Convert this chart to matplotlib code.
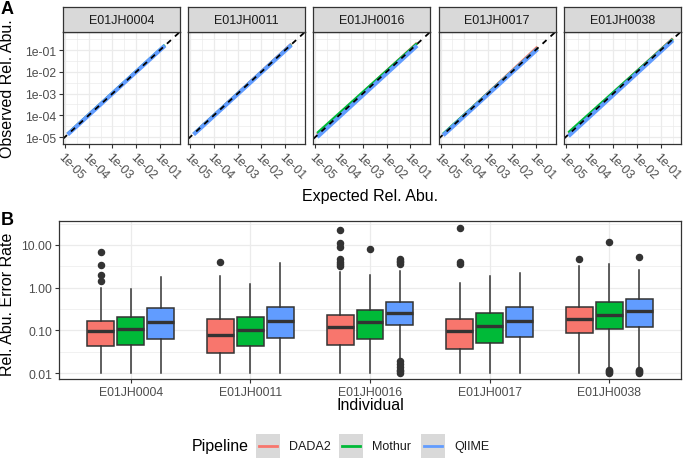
import matplotlib
matplotlib.use("Agg")
import matplotlib.pyplot as plt
from matplotlib.patches import Rectangle
from matplotlib.lines import Line2D
from matplotlib.ticker import FixedLocator, NullFormatter

plt.rcParams['font.family'] = ['Liberation Sans', 'DejaVu Sans']

# ---------------- data ----------------
individuals = ["E01JH0004", "E01JH0011", "E01JH0016", "E01JH0017", "E01JH0038"]
pipelines = ["DADA2", "Mothur", "QIIME"]
colors = ["#F8766D", "#00BA38", "#619CFF"]

# Panel A: expected vs observed relative abundance (line start / end per individual)
expected_A = {
    "E01JH0004": [1.3e-5, 1.6e-1],
    "E01JH0011": [1.4e-5, 1.8e-1],
    "E01JH0016": [1.2e-5, 1.9e-1],
    "E01JH0017": [1.3e-5, 1.2e-1],
    "E01JH0038": [1.3e-5, 3.2e-1],
}
dada2_obs = {
    "E01JH0004": [1.4e-5, 1.6e-1],
    "E01JH0011": [1.4e-5, 1.9e-1],
    "E01JH0016": [1.3e-5, 2.1e-1],
    "E01JH0017": [1.3e-5, 1.4e-1],
    "E01JH0038": [1.4e-5, 3.4e-1],
}
mothur_obs = {
    "E01JH0004": [1.4e-5, 1.7e-1],
    "E01JH0011": [1.4e-5, 1.8e-1],
    "E01JH0016": [1.5e-5, 2.0e-1],
    "E01JH0017": [1.4e-5, 1.2e-1],
    "E01JH0038": [1.6e-5, 3.2e-1],
}
qiime_obs = {
    "E01JH0004": [1.3e-5, 1.6e-1],
    "E01JH0011": [1.3e-5, 1.7e-1],
    "E01JH0016": [1.0e-5, 1.6e-1],
    "E01JH0017": [1.2e-5, 1.1e-1],
    "E01JH0038": [1.1e-5, 2.8e-1],
}
obs_A = [dada2_obs, mothur_obs, qiime_obs]
a_ticks = [1e-5, 1e-4, 1e-3, 1e-2, 1e-1]
a_ticklabels = ["1e-05", "1e-04", "1e-03", "1e-02", "1e-01"]

# Panel B: box statistics of relative abundance error rate (per individual)
dada2_q1 = [0.044, 0.029, 0.045, 0.036, 0.085]
dada2_med = [0.095, 0.079, 0.117, 0.095, 0.18]
dada2_q3 = [0.162, 0.184, 0.23, 0.186, 0.36]
dada2_lo = [0.01, 0.01, 0.01, 0.01, 0.01]
dada2_hi = [0.98, 1.9, 2.37, 1.26, 3.2]
dada2_out = [[6.8, 3.4, 2.0, 1.4], [3.9], [22, 11, 8.7, 4.7, 3.9, 3.5, 3.2], [25, 3.9, 3.5], [4.6]]

mothur_q1 = [0.046, 0.042, 0.064, 0.051, 0.109]
mothur_med = [0.105, 0.10, 0.155, 0.124, 0.23]
mothur_q3 = [0.205, 0.205, 0.30, 0.25, 0.46]
mothur_lo = [0.01, 0.01, 0.01, 0.01, 0.013]
mothur_hi = [0.95, 1.2, 2.0, 1.86, 3.5]
mothur_out = [[], [], [7.9], [], [12, 0.012, 0.011, 0.0105, 0.01]]

qiime_q1 = [0.064, 0.066, 0.13, 0.071, 0.121]
qiime_med = [0.16, 0.168, 0.26, 0.168, 0.28]
qiime_q3 = [0.33, 0.35, 0.47, 0.345, 0.54]
qiime_lo = [0.01, 0.01, 0.02, 0.01, 0.014]
qiime_hi = [1.77, 3.8, 2.5, 2.16, 2.6]
qiime_out = [[], [], [4.6, 4.2, 3.9, 3.6, 0.019, 0.016, 0.014, 0.012, 0.011, 0.01],
             [], [5.1, 0.012, 0.011, 0.0105, 0.01]]

b_ticks = [0.01, 0.1, 1, 10]
b_ticklabels = ["0.01", "0.10", "1.00", "10.00"]

# ---------------- layout helpers ----------------
W, H = 685, 460
fig = plt.figure(figsize=(W / 100, H / 100), dpi=100)

def fr(x0, y0, x1, y1):
    return [x0 / W, 1 - y1 / H, (x1 - x0) / W, (y1 - y0) / H]

GRID = "#EBEBEB"
EDGE = "#333333"
TICKC = "#4D4D4D"
TICK_FS = 8.8
TITLE_FS = 11.5

# overlay for free text / legend
ov = fig.add_axes([0, 0, 1, 1], zorder=0)
ov.set_xlim(0, W)
ov.set_ylim(H, 0)
ov.axis("off")
ov.patch.set_alpha(0)

# ---------------- Panel A ----------------
pw = 117
for i, ind in enumerate(individuals):
    x0 = 63 + i * 125.2
    ax = fig.add_axes(fr(x0, 33, x0 + pw, 145), zorder=1)
    ax.set_xscale("log")
    ax.set_yscale("log")
    ax.set_xlim(10 ** -5.08, 10 ** -0.16)
    ax.set_ylim(10 ** -5.32, 10 ** -0.17)
    ax.xaxis.set_major_locator(FixedLocator(a_ticks))
    ax.yaxis.set_major_locator(FixedLocator(a_ticks))
    minors = [10 ** (k + 0.5) for k in range(-6, 0)]
    ax.xaxis.set_minor_locator(FixedLocator(minors))
    ax.yaxis.set_minor_locator(FixedLocator(minors))
    ax.xaxis.set_minor_formatter(NullFormatter())
    ax.yaxis.set_minor_formatter(NullFormatter())
    ax.grid(which="major", color=GRID, lw=0.9)
    ax.grid(which="minor", color=GRID, lw=0.5)
    ax.set_axisbelow(True)
    ax.tick_params(which="minor", length=0)
    ax.tick_params(which="major", length=3, width=0.8, color=EDGE,
                   labelcolor=TICKC, labelsize=TICK_FS, pad=2)
    ax.set_xticklabels(a_ticklabels, rotation=-45, ha="left", va="top",
                       rotation_mode="anchor")
    if i == 0:
        ax.set_yticklabels(a_ticklabels)
    else:
        ax.tick_params(axis="y", length=0, labelleft=False)
    for s in ax.spines.values():
        s.set_color(EDGE)
        s.set_linewidth(0.9)
    lws = [2.0, 2.0, 3.0]
    for p, obs in enumerate(obs_A):
        ax.plot(expected_A[ind], obs[ind], color=colors[p], lw=lws[p],
                solid_capstyle="butt")
    ax.axline((1e-3, 1e-3), (1e-2, 1e-2), color="black", lw=1.3,
              linestyle=(0, (3, 3)))
    # strip
    sx = fig.add_axes(fr(x0, 8, x0 + pw, 33), zorder=1)
    sx.set_facecolor("#D9D9D9")
    sx.set_xticks([])
    sx.set_yticks([])
    for s in sx.spines.values():
        s.set_color(EDGE)
        s.set_linewidth(0.9)
    sx.text(0.5, 0.48, ind, ha="center", va="center", fontsize=9.0,
            color="#1A1A1A", transform=sx.transAxes)

ov.text(1, 14, "A", fontsize=13, fontweight="bold", ha="left", va="baseline")
ov.text(8, 89, "Observed Rel. Abu.", rotation=90, fontsize=TITLE_FS,
        ha="center", va="center")
ov.text(370, 197, "Expected Rel. Abu.", fontsize=TITLE_FS, ha="center", va="center")

# ---------------- Panel B ----------------
axb = fig.add_axes(fr(59, 222, 681, 380), zorder=1)
axb.set_yscale("log")
axb.set_ylim(10 ** -2.14, 10 ** 1.56)
axb.set_xlim(0.4, 5.6)

q1s = [dada2_q1, mothur_q1, qiime_q1]
meds = [dada2_med, mothur_med, qiime_med]
q3s = [dada2_q3, mothur_q3, qiime_q3]
los = [dada2_lo, mothur_lo, qiime_lo]
his = [dada2_hi, mothur_hi, qiime_hi]
outs = [dada2_out, mothur_out, qiime_out]

for p in range(3):
    stats = []
    positions = []
    for i in range(len(individuals)):
        stats.append(dict(med=meds[p][i], q1=q1s[p][i], q3=q3s[p][i],
                          whislo=los[p][i], whishi=his[p][i],
                          fliers=outs[p][i]))
        positions.append(i + 1 + (p - 1) * 0.25)
    axb.bxp(stats, positions=positions, widths=0.225, patch_artist=True,
            showcaps=False, manage_ticks=False,
            boxprops=dict(facecolor=colors[p], edgecolor=EDGE, lw=1.1),
            medianprops=dict(color=EDGE, lw=2.4, solid_capstyle="butt"),
            whiskerprops=dict(color=EDGE, lw=1.1),
            flierprops=dict(marker="o", markerfacecolor=EDGE,
                            markeredgecolor=EDGE, markersize=4.4))

axb.yaxis.set_major_locator(FixedLocator(b_ticks))
axb.yaxis.set_minor_locator(FixedLocator([10 ** (k + 0.5) for k in range(-3, 2)]))
axb.yaxis.set_minor_formatter(NullFormatter())
axb.set_yticklabels(b_ticklabels)
axb.set_xticks(range(1, len(individuals) + 1))
axb.set_xticklabels(individuals)
axb.grid(which="major", color=GRID, lw=0.9)
axb.grid(which="minor", axis="y", color=GRID, lw=0.5)
axb.set_axisbelow(True)
axb.tick_params(which="minor", length=0)
axb.tick_params(which="major", length=3, width=0.8, color=EDGE,
                labelcolor=TICKC, labelsize=TICK_FS, pad=2)
for s in axb.spines.values():
    s.set_color(EDGE)
    s.set_linewidth(0.9)

ov.text(1, 225, "B", fontsize=13, fontweight="bold", ha="left", va="baseline")
ov.text(8, 304, "Rel. Abu. Error Rate", rotation=90, fontsize=TITLE_FS,
        ha="center", va="center")
ov.text(370, 406, "Individual", fontsize=TITLE_FS, ha="center", va="center")

# ---------------- legend ----------------
ov.text(192, 447, "Pipeline", fontsize=TITLE_FS, ha="left", va="center")
key_x = [256, 339, 421]
for p, name in enumerate(pipelines):
    kx = key_x[p]
    ov.add_patch(Rectangle((kx, 435), 24, 24, facecolor="#D9D9D9",
                           edgecolor="none"))
    ov.add_line(Line2D([kx + 3, kx + 21], [447, 447], color=colors[p], lw=2.0))
    ov.text(kx + 33, 447, name, fontsize=9.0, ha="left", va="center",
            color="#1A1A1A")

fig.savefig("out.png", dpi=100)
